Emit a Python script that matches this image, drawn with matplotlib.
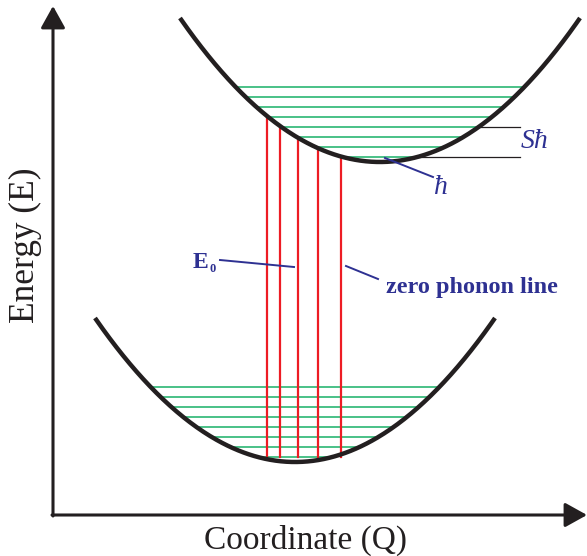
#!/usr/bin/env python3
"""Configuration-coordinate diagram: two parabolas, vibronic levels, transitions."""
import numpy as np
import matplotlib
matplotlib.use("Agg")
import matplotlib.pyplot as plt

# diagram values (pixel-like coordinates, y grows downward)
upper_min = (380, 162)
lower_min = (295, 462)
curvature = 0.0036
half_width = 200
upper_levels = [87, 97, 107, 117, 127, 137, 147, 157]
lower_levels = [387, 397, 407, 417, 427, 437, 447, 457]
transition_x = [267, 280, 298, 318, 341]
s_bracket_levels = [127, 157]
s_bracket_right = 520

BLACK = "#231f20"
GREEN = "#2bb673"
RED = "#ed1c24"
BLUE = "#2e3192"
SERIF = ["Liberation Serif", "DejaVu Serif"]

fig = plt.figure(figsize=(5.87, 5.56), dpi=100)
ax = fig.add_axes([0, 0, 1, 1])
ax.set_xlim(0, 587)
ax.set_ylim(556, 0)
ax.axis("off")


def curve_y(x, center):
    return center[1] - curvature * (x - center[0]) ** 2


def level_span(y, center):
    dx = np.sqrt((center[1] - y) / curvature)
    return center[0] - dx, center[0] + dx


# vibrational levels
for center, levels in [(upper_min, upper_levels), (lower_min, lower_levels)]:
    for y in levels:
        x0, x1 = level_span(y, center)
        ax.plot([x0, x1], [y, y], color=GREEN, lw=1.2, zorder=2)

# S*hbar bracket lines
for y in s_bracket_levels:
    x0, x1 = level_span(y, upper_min)
    ax.plot([x1 - 3, s_bracket_right], [y, y], color=BLACK, lw=0.9, zorder=2)

# transitions
for x in transition_x:
    ax.plot([x, x], [curve_y(x, upper_min), lower_levels[-1]],
            color=RED, lw=1.6, zorder=3)

# potential curves
for center in [upper_min, lower_min]:
    xs = np.linspace(center[0] - half_width, center[0] + half_width, 300)
    ax.plot(xs, curve_y(xs, center), color=BLACK, lw=3.2,
            solid_capstyle="butt", zorder=4)

# axes with arrows
arrow_style = dict(arrowstyle="-|>,head_length=0.9,head_width=0.5",
                   mutation_scale=15, lw=2.2, color=BLACK,
                   shrinkA=0, shrinkB=0)
ax.annotate("", xy=(53, 6), xytext=(53, 516), arrowprops=arrow_style,
            annotation_clip=False)
ax.annotate("", xy=(587, 515), xytext=(52, 515), arrowprops=arrow_style,
            annotation_clip=False)
ax.text(25, 245, "Energy (E)", rotation=90, ha="center", va="center",
        fontsize=25.5, family=SERIF, color=BLACK)
ax.text(305, 540, "Coordinate (Q)", ha="center", va="center",
        fontsize=24, family=SERIF, color=BLACK)

# annotations
ax.plot([220, 294], [260, 267], color=BLUE, lw=1.4, zorder=5)
ax.text(193, 262, "E", ha="left", va="center", fontsize=17,
        fontweight="bold", family=SERIF, color=BLUE)
ax.text(210, 269, "0", ha="left", va="center", fontsize=9,
        fontweight="bold", family=SERIF, color=BLUE)
ax.plot([346, 378], [266, 279], color=BLUE, lw=1.4, zorder=5)
ax.text(386, 287, "zero phonon line", ha="left", va="center", fontsize=17.5,
        fontweight="bold", family=SERIF, color=BLUE)
ax.plot([385, 433], [158, 177], color=BLUE, lw=1.4, zorder=5)
ax.text(441, 188, "ħ", ha="center", va="center", fontsize=20,
        style="italic", family=SERIF, color=BLUE)
ax.text(521, 141, "Sħ", ha="left", va="center", fontsize=20,
        style="italic", family=SERIF, color=BLUE)

fig.savefig("out.png", dpi=100, facecolor="white")
